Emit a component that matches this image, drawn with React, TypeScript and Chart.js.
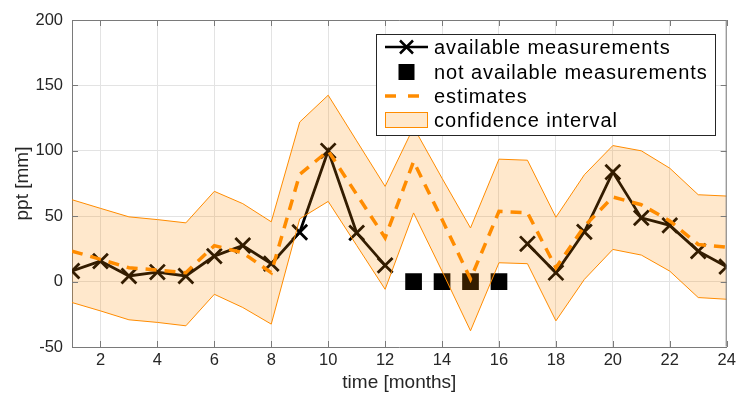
import React, { useEffect, useRef } from "react";
import { Chart, registerables } from "chart.js";

Chart.register(...registerables);

const months = [1, 2, 3, 4, 5, 6, 7, 8, 9, 10, 11, 12, 13, 14, 15, 16, 17, 18, 19, 20, 21, 22, 23, 24];
const available = [8.1, 15.7, 4.3, 7.3, 4.3, 19.5, 27.6, 13.7, 37.7, 100, 37.3, 12.4, null, null, null, null, 28.9, 6.8, 38, 83.7, 48.7, 43, 23.3, 11.4];
const notAvailable = [null, null, null, null, null, null, null, null, null, null, null, null, 0, 0, 0, 0, null, null, null, null, null, null, null, null];
const estimates = [23.3, 17, 10.6, 8.8, 6.8, 27.5, 22, 6.8, 82, 100, 66.7, 33.5, 91.8, 47.5, 2, 53.7, 52.7, 10.6, 42.3, 64.7, 58.8, 46.4, 28.4, 26.3];
const ciUpper = [62.6, 56, 49.5, 47.4, 44.9, 69, 59.6, 45.7, 122, 142.5, 107.6, 72.8, 118, 79, 41, 93.6, 92.8, 49.2, 81.7, 104, 100, 86.7, 66.4, 65.4];
const ciLower = [-16, -22.4, -29.2, -31.2, -33.8, -9.7, -19.8, -32.5, 48, 61.3, 27.7, -5.9, 52.5, 8, -37.6, 14.4, 13.7, -30, 1.7, 24.6, 20.3, 8, -12.2, -13.5];
const xTicks = [2, 4, 6, 8, 10, 12, 14, 16, 18, 20, 22, 24];
const yTicks = [-50, 0, 50, 100, 150, 200];
const legendLabels = ["available measurements", "not available measurements", "estimates", "confidence interval"];

const FONT = "'Liberation Sans', Arial, Helvetica, sans-serif";
const ORANGE = "rgb(255,140,0)";
const FILL = "rgba(255,140,0,0.2)";
const AXIS = "#7a7a7a";
const TEXT = "#262626";

const pts = (arr: (number | null)[]) => months.map((m, i) => ({ x: m, y: arr[i] }));

const framePlugin = {
  id: "frame",
  afterDraw(chart: any) {
    const { ctx, chartArea } = chart;
    const { left, right, top, bottom } = chartArea;
    const xs = chart.scales.x;
    const ys = chart.scales.y;
    ctx.save();
    // box
    ctx.strokeStyle = AXIS;
    ctx.lineWidth = 1;
    ctx.beginPath();
    ctx.moveTo(left + 0.5, top + 0.5);
    ctx.lineTo(right - 0.5, top + 0.5);
    ctx.lineTo(right - 0.5, bottom - 0.5);
    ctx.stroke();
    // inward ticks
    const tl = 6;
    ctx.beginPath();
    xTicks.forEach((v) => {
      const px = Math.round(xs.getPixelForValue(v)) + 0.5;
      ctx.moveTo(px, bottom);
      ctx.lineTo(px, bottom - tl);
      ctx.moveTo(px, top);
      ctx.lineTo(px, top + tl);
    });
    yTicks.forEach((v) => {
      const py = Math.round(ys.getPixelForValue(v)) + 0.5;
      ctx.moveTo(left, py);
      ctx.lineTo(left + tl, py);
      ctx.moveTo(right, py);
      ctx.lineTo(right - tl, py);
    });
    ctx.stroke();

    // legend
    const bx = 376.5, by = 34.5, bw = 339, bh = 101;
    ctx.fillStyle = "#ffffff";
    ctx.fillRect(bx, by, bw, bh);
    ctx.strokeStyle = TEXT;
    ctx.lineWidth = 1;
    ctx.strokeRect(bx, by, bw, bh);
    const rows = [47, 72, 96, 120];
    const sx0 = 385, sx1 = 428, sxc = 406.5;
    // row 1: line with X
    ctx.strokeStyle = "#000";
    ctx.lineWidth = 2.5;
    ctx.beginPath();
    ctx.moveTo(sx0, rows[0]);
    ctx.lineTo(sx1, rows[0]);
    ctx.stroke();
    ctx.beginPath();
    const r = 6.5;
    ctx.moveTo(sxc - r, rows[0] - r);
    ctx.lineTo(sxc + r, rows[0] + r);
    ctx.moveTo(sxc - r, rows[0] + r);
    ctx.lineTo(sxc + r, rows[0] - r);
    ctx.stroke();
    // row 2: square
    ctx.fillStyle = "#000";
    ctx.fillRect(sxc - 8, rows[1] - 8, 16, 16);
    // row 3: dashed
    ctx.strokeStyle = ORANGE;
    ctx.lineWidth = 3.5;
    ctx.setLineDash([11, 12]);
    ctx.beginPath();
    ctx.moveTo(sx0, rows[2]);
    ctx.lineTo(sx1 - 6, rows[2]);
    ctx.stroke();
    ctx.setLineDash([]);
    // row 4: patch
    ctx.fillStyle = FILL;
    ctx.fillRect(sx0, rows[3] - 8, sx1 - sx0, 16);
    ctx.strokeStyle = ORANGE;
    ctx.lineWidth = 1;
    ctx.strokeRect(sx0 + 0.5, rows[3] - 7.5, sx1 - sx0 - 1, 15);
    // texts
    ctx.fillStyle = "#000";
    ctx.font = `20px ${FONT}`;
    (ctx as any).letterSpacing = "0.9px";
    ctx.textAlign = "left";
    ctx.textBaseline = "middle";
    legendLabels.forEach((t, i) => ctx.fillText(t, 434, rows[i] + 1));
    ctx.restore();
  },
};

export default function App() {
  const ref = useRef<HTMLCanvasElement>(null);
  useEffect(() => {
    if (!ref.current) return;
    const chart = new Chart(ref.current, {
      type: "line",
      data: {
        datasets: [
          {
            label: "estimates",
            data: pts(estimates),
            borderColor: ORANGE,
            borderWidth: 3.5,
            borderDash: [11, 8],
            pointRadius: 0,
            fill: false,
            order: 0,
          },
          {
            label: "ci upper",
            data: pts(ciUpper),
            borderColor: ORANGE,
            borderWidth: 1,
            pointRadius: 0,
            backgroundColor: FILL,
            fill: "+1",
            order: 1,
          },
          {
            label: "ci lower",
            data: pts(ciLower),
            borderColor: ORANGE,
            borderWidth: 1,
            pointRadius: 0,
            fill: false,
            order: 2,
          },
          {
            label: "not available measurements",
            data: pts(notAvailable),
            showLine: false,
            pointStyle: "rect",
            pointRadius: 11.8,
            pointBackgroundColor: "#000",
            pointBorderWidth: 0,
            borderColor: "#000",
            order: 3,
          },
          {
            label: "available measurements",
            data: pts(available),
            borderColor: "#000",
            borderWidth: 2.8,
            pointStyle: "crossRot",
            pointRadius: 10.5,
            pointBorderWidth: 2.8,
            pointBorderColor: "#000",
            spanGaps: false,
            fill: false,
            order: 4,
          },
        ],
      },
      options: {
        animation: false,
        responsive: false,
        devicePixelRatio: 1,
        layout: { padding: { left: 0, right: 9, top: 20, bottom: 0 } },
        plugins: { legend: { display: false }, tooltip: { enabled: false } },
        elements: { line: { tension: 0 } },
        scales: {
          x: {
            type: "linear",
            min: 1,
            max: 24,
            afterBuildTicks: (s: any) => {
              s.ticks = xTicks.map((v) => ({ value: v }));
            },
            afterFit: (s: any) => {
              s.height = 47;
            },
            grid: { color: "#e3e3e3", lineWidth: 1, drawTicks: false },
            border: { color: AXIS, width: 1 },
            ticks: { color: TEXT, font: { family: FONT, size: 16.5 }, padding: 4, maxRotation: 0, autoSkip: false },
            title: { display: true, text: "time [months]", color: TEXT, font: { family: FONT, size: 19 }, padding: { top: 0, bottom: 0 } },
          },
          y: {
            min: -50,
            max: 200,
            afterBuildTicks: (s: any) => {
              s.ticks = yTicks.map((v) => ({ value: v }));
            },
            afterFit: (s: any) => {
              s.width = 72;
            },
            grid: { color: "#e3e3e3", lineWidth: 1, drawTicks: false },
            border: { color: AXIS, width: 1 },
            ticks: { color: TEXT, font: { family: FONT, size: 16.5 }, padding: 9 },
            title: { display: true, text: "ppt [mm]", color: TEXT, font: { family: FONT, size: 19 }, padding: { top: 11, bottom: 0 } },
          },
        },
      },
      plugins: [framePlugin],
    });
    return () => chart.destroy();
  }, []);
  return (
    <div style={{ position: "absolute", left: 0, top: 0, width: 740, height: 394 }}>
      <canvas ref={ref} width={740} height={394} />
    </div>
  );
}
